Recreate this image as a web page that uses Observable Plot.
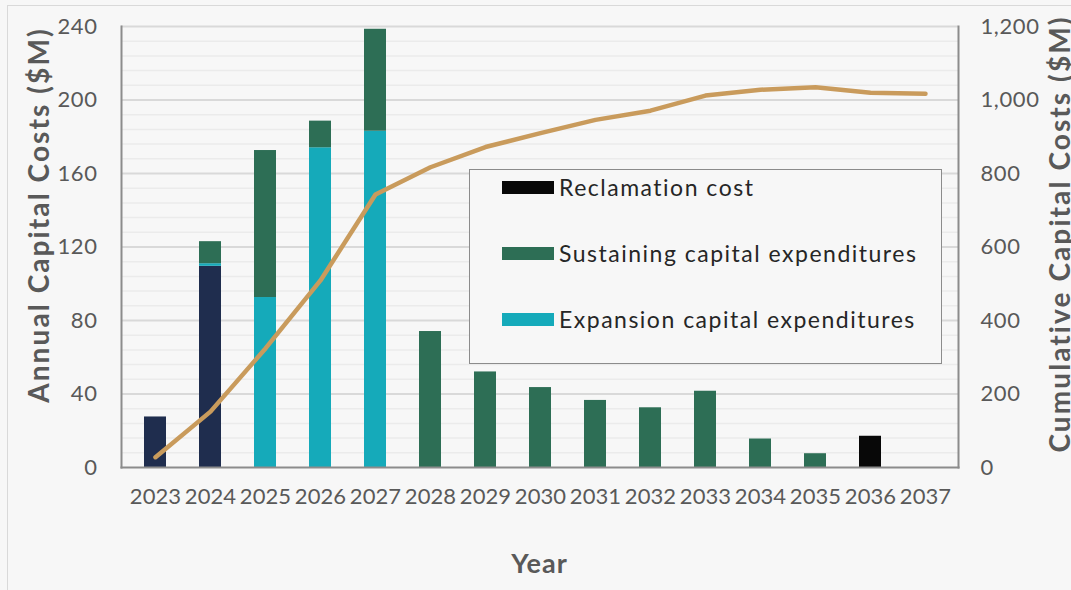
<!DOCTYPE html>
<html>
<head>
<meta charset="utf-8">
<script src="https://cdn.jsdelivr.net/npm/d3@7"></script>
<script src="https://cdn.jsdelivr.net/npm/@observablehq/plot@0.6"></script>
<style>
  html, body { margin: 0; padding: 0; background: #f7f7f7; }
  #wrap { position: relative; width: 1071px; height: 590px; overflow: hidden; background: #f7f7f7; font-family: "Lato", "DejaVu Sans", sans-serif; }
  #frame { position: absolute; left: 7px; top: 5px; width: 1100px; height: 620px; border: 1.5px solid #d9d9d9; box-sizing: border-box; }
  #chart { position: absolute; left: 0; top: 0; }
  .ytitle { position: absolute; font-weight: bold; color: #595959; font-size: 28px; white-space: nowrap; transform-origin: center center; letter-spacing: 2.1px; }
  #xtitle { position: absolute; left: 0; width: 1079px; text-align: center; top: 546px; font-weight: bold; color: #595959; font-size: 27px; letter-spacing: 1px; }
  #legend { position: absolute; left: 469px; top: 169px; width: 473px; height: 195px; border: 1.5px solid #8c8c8c; box-sizing: border-box; background: #f7f7f7; }
  .li { position: absolute; left: 32px; height: 26px; display: flex; align-items: center; font-size: 23px; color: #262626; white-space: nowrap; letter-spacing: 1.5px; }
  .sw { width: 52px; height: 13px; margin-right: 5px; }
</style>
</head>
<body>
<div id="wrap">
  <div id="frame"></div>
  <div id="chart"></div>
</div>
<script>
// ---- data ----
const years = ["2023","2024","2025","2026","2027","2028","2029","2030","2031","2032","2033","2034","2035","2036","2037"];
const initialCapital   = [27.5, 109.5, 0, 0, 0, 0, 0, 0, 0, 0, 0, 0, 0, 0, 0];
const expansionCapex   = [0, 1.4, 92.5, 174, 183, 0, 0, 0, 0, 0, 0, 0, 0, 0, 0];
const sustainingCapex  = [0, 12, 80, 14.5, 55.5, 74, 52, 43.5, 36.5, 32.5, 41.5, 15.5, 7.5, 0, 0];
const reclamationCost  = [0, 0, 0, 0, 0, 0, 0, 0, 0, 0, 0, 0, 0, 17, 0];
const cumulativeCosts  = [28, 152, 324, 509, 743, 817, 872, 910, 946, 971, 1012, 1028, 1035, 1020, 1017];
const leftTicks  = [0, 40, 80, 120, 160, 200, 240];
const rightTicks = [0, 200, 400, 600, 800, 1000, 1200];
const minorTicks = d3.range(0, 241, 8);

const seriesNames = ["Initial capital", "Expansion capital expenditures", "Sustaining capital expenditures", "Reclamation cost"];
const seriesColors = ["#1f2d4e", "#15aaba", "#2d6e55", "#080808"];
const seriesValues = [initialCapital, expansionCapex, sustainingCapex, reclamationCost];

const bars = [];
seriesNames.forEach((s, si) => years.forEach((y, i) => {
  bars.push({year: y, series: s, value: seriesValues[si][i]});
}));
const line = years.map((y, i) => ({year: y, cum: cumulativeCosts[i]}));
const ratio = 1200 / 240;

const W = 1071, H = 590;
const plot = Plot.plot({
  width: W, height: H,
  marginLeft: 121, marginRight: 113, marginTop: 26, marginBottom: 123,
  style: {background: "transparent", fontFamily: "Lato, 'DejaVu Sans', sans-serif", fontSize: "22px"},
  x: {type: "band", domain: years, paddingInner: 0.6, paddingOuter: 0.3, label: null},
  y: {domain: [0, 240], label: null},
  color: {domain: seriesNames, range: seriesColors},
  marks: [
    Plot.ruleY(minorTicks.filter(d => d % 40 !== 0), {stroke: "#ebebeb", strokeWidth: 1.5}),
    Plot.ruleY(leftTicks.filter(d => d > 0), {stroke: "#d9d9d9", strokeWidth: 2}),
    Plot.barY(bars, {x: "year", y: "value", fill: "series", order: seriesNames}),
    Plot.line(line, {x: "year", y: d => d.cum / ratio, stroke: "#c99b5c", strokeWidth: 4.5, strokeLinecap: "round", strokeLinejoin: "round"}),
    Plot.axisY({ticks: leftTicks, tickSize: 0, tickPadding: 24, color: "#595959", fontSize: 22, label: null}),
    Plot.axisY({anchor: "right", ticks: rightTicks.map(d => d / ratio), tickFormat: d => d3.format(",")(Math.round(d * ratio)), tickSize: 0, tickPadding: 22, color: "#595959", fontSize: 22, label: null}),
    Plot.axisX({tickSize: 0, tickPadding: 21, color: "#595959", fontSize: 22, label: null}),
    Plot.frame({stroke: "#8c8c8c", strokeWidth: 2, anchor: "left"}),
    Plot.frame({stroke: "#8c8c8c", strokeWidth: 2, anchor: "right"}),
    Plot.frame({stroke: "#8c8c8c", strokeWidth: 2, anchor: "bottom"})
  ]
});
plot.querySelectorAll('g[aria-label="y-axis tick label"] text').forEach(t => t.style.letterSpacing = "0.6px");
plot.querySelectorAll('g[aria-label="x-axis tick label"] text').forEach(t => t.style.letterSpacing = "0.1px");
document.getElementById("chart").appendChild(plot);

const wrap = document.getElementById("wrap");
function addTitle(text, cx, cy) {
  const d = document.createElement("div");
  d.className = "ytitle";
  d.textContent = text;
  wrap.appendChild(d);
  const w = d.offsetWidth, h = d.offsetHeight;
  d.style.left = (cx - w / 2) + "px";
  d.style.top = (cy - h / 2) + "px";
  d.style.transform = "rotate(-90deg)";
}
addTitle("Annual Capital Costs ($M)", 38, 215);
addTitle("Cumulative Capital Costs ($M)", 1058, 234);

const xt = document.createElement("div");
xt.id = "xtitle"; xt.textContent = "Year";
wrap.appendChild(xt);

// legend (the first series has no legend entry in the reference)
const lg = document.createElement("div");
lg.id = "legend";
const legendItems = [["Reclamation cost", seriesColors[3]], ["Sustaining capital expenditures", seriesColors[2]], ["Expansion capital expenditures", seriesColors[1]]];
legendItems.forEach(([name, col], i) => {
  const it = document.createElement("div");
  it.className = "li";
  it.style.top = (4 + i * 66) + "px";
  const sw = document.createElement("div");
  sw.className = "sw"; sw.style.background = col;
  const tx = document.createElement("span");
  tx.textContent = name;
  it.appendChild(sw); it.appendChild(tx);
  lg.appendChild(it);
});
wrap.appendChild(lg);
</script>
</body>
</html>
